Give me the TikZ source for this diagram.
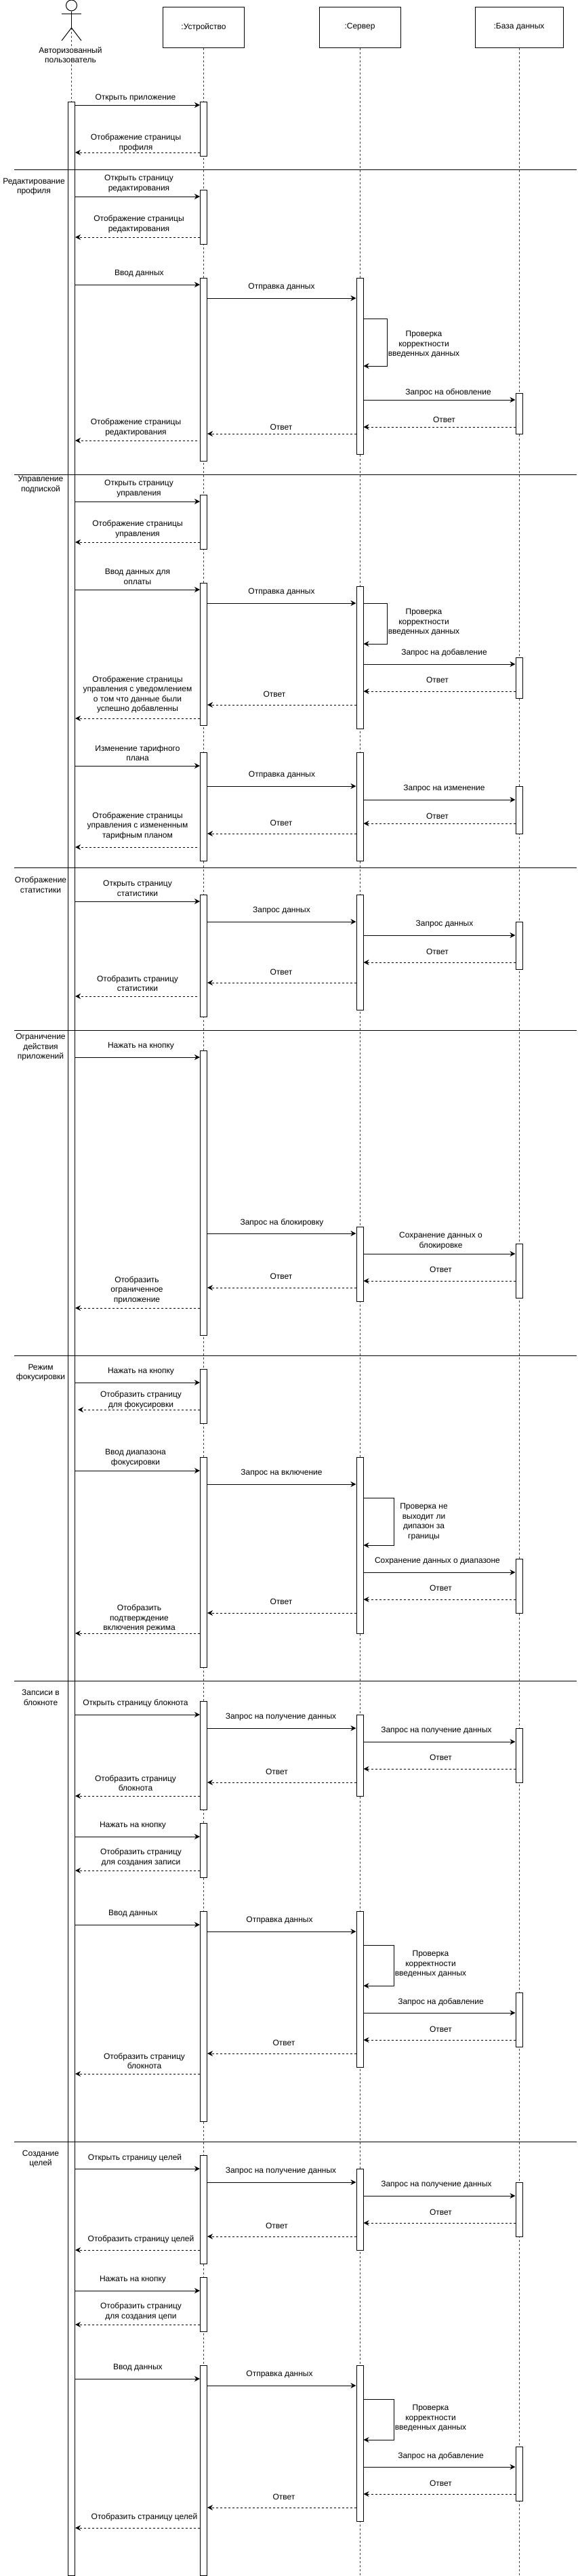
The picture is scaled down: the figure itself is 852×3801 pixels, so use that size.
\documentclass[tikz,border=0pt]{standalone}
\usepackage{fontspec}
\setmainfont{Liberation Sans}
\usetikzlibrary{arrows.meta}
\tikzset{
  headbox/.style={draw=black,line width=1pt,fill=white,minimum width=120pt,minimum height=60pt,inner sep=0pt,font=\fontsize{12}{14.5}\selectfont},
  actbarst/.style={draw=black,line width=1pt,fill=white,minimum width=10pt,inner sep=0pt},
  lab/.style={align=center,inner sep=0pt,font=\fontsize{12}{14.5}\selectfont},
  lifeln/.style={draw=black!75,line width=1pt,dash pattern=on 3pt off 3pt},
  msg/.style={draw=black,line width=1pt,-{Stealth[length=8pt,width=8pt,inset=2.5pt]}},
  ret/.style={msg,dash pattern=on 3pt off 3pt},
  sect/.style={draw=black,line width=1pt},
  limb/.style={draw=black,line width=1pt}
}
\newcommand\actbar[4]{\node[actbarst,minimum height={(#4-#3)*1pt}] (#1) at (#2,{(#3+#4)/2}) {};}
\newcommand\lbl[4]{\node[lab] (#1) at (#2,#3) {#4};}
\newcommand\msgR[3]{\draw[msg] (#1.east |- 0,#3) -- (#2.west |- 0,#3);}
\newcommand\retL[4][]{\draw[ret,#1] (#2.west |- 0,#4) -- (#3.east |- 0,#4);}
\newcommand\selfm[4]{\draw[msg] (#1.east |- 0,#2) -- ++(#4,0) -- ++(0,{#3-#2}) -- (#1.east |- 0,#3);}
\newcommand\sectln[2]{\coordinate (#1a) at (21,#2); \coordinate (#1b) at (851,#2); \draw[sect] (#1a) -- (#1b);}
\begin{document}
\begin{tikzpicture}[x=1pt,y=-1pt]
\useasboundingbox (0,0) rectangle (852,3801);
\fill[white] (0,0) rectangle (852,3801);
% heads
\node[headbox] (dev) at (300.5,40) {:Устройство};
\node[headbox] (srv) at (531,40) {:Сервер};
\node[headbox,minimum width=130pt] (dbs) at (766,40) {:База данных};
\coordinate (usr) at (105.5,41);
\coordinate (pageend) at (0,3800);
% lifelines
\draw[lifeln] (usr) -- (usr |- pageend);
\draw[lifeln] (dev.south) -- (dev.south |- pageend);
\draw[lifeln] (srv.south) -- (srv.south |- pageend);
\draw[lifeln] (dbs.south) -- (dbs.south |- pageend);
% actor
\node[circle,draw=black,line width=1pt,fill=white,minimum size=16pt,inner sep=0pt] (ahead) at (105.5,8) {};
\coordinate (aarml) at (91,20); \coordinate (aarmr) at (120,20);
\coordinate (alegl) at (91,60); \coordinate (alegr) at (120,60);
\draw[limb] (ahead.south) -- (usr);
\draw[limb] (aarml) -- (aarmr);
\draw[limb] (alegl) -- (usr) -- (alegr);
\node[lab,fill=white] (ulabel) at (104,81) {Авторизованный\\пользователь};
% bars
\actbar{a0}{105.5}{150}{3800}
\actbar{d1}{300.5}{150}{230}
\actbar{d2}{300.5}{280}{360}
\actbar{d3}{300.5}{410}{680}
\actbar{s1}{531}{410}{670}
\actbar{b1}{766}{580}{640}
\actbar{d4}{300.5}{730}{810}
\actbar{d5}{300.5}{860}{1070}
\actbar{s2}{531}{865}{1075}
\actbar{b2}{766}{970}{1030}
\actbar{d6}{300.5}{1110}{1270}
\actbar{s3}{531}{1110}{1270}
\actbar{b3}{766}{1160}{1230}
\actbar{d7}{300.5}{1320}{1500}
\actbar{s4}{531}{1320}{1490}
\actbar{b4}{766}{1360}{1430}
\actbar{d8}{300.5}{1550}{1970}
\actbar{s5}{531}{1810}{1920}
\actbar{b5}{766}{1835}{1915}
\actbar{d9}{300.5}{2020}{2100}
\actbar{d10}{300.5}{2150}{2460}
\actbar{s6}{531}{2150}{2410}
\actbar{b6}{766}{2300}{2380}
\actbar{d11}{300.5}{2510}{2670}
\actbar{s7}{531}{2530}{2650}
\actbar{b7}{766}{2550}{2630}
\actbar{d12}{300.5}{2690}{2770}
\actbar{d13}{300.5}{2820}{3130}
\actbar{s8}{531}{2820}{3050}
\actbar{b8}{766}{2940}{3020}
\actbar{d14}{300.5}{3180}{3340}
\actbar{s9}{531}{3200}{3320}
\actbar{b9}{766}{3220}{3300}
\actbar{d15}{300.5}{3360}{3440}
\actbar{d16}{300.5}{3490}{3800}
\actbar{s10}{531}{3490}{3720}
\actbar{b10}{766}{3610}{3690}
% profile
\msgR{a0}{d1}{155} \lbl{t1}{200}{145}{Открыть приложение}
\retL{d1}{a0}{225} \lbl{t2}{200.5}{211}{Отображение страницы\\профиля}
% edit profile
\lbl{c1}{50}{275.5}{Редактирование\\профиля}
\msgR{a0}{d2}{290} \lbl{t3}{205}{271}{Открыть страницу\\редактирования}
\retL{d2}{a0}{350} \lbl{t4}{205}{331}{Отображение страницы\\редактирования}
\msgR{a0}{d3}{420} \lbl{t5}{205.5}{404}{Ввод данных}
\msgR{d3}{s1}{440} \lbl{t6}{415.5}{424}{Отправка данных}
\selfm{s1}{470}{540}{35} \lbl{t7}{625.5}{508.5}{Проверка\\корректности\\введенных данных}
\msgR{s1}{b1}{590} \lbl{t8}{661.5}{579}{Запрос на обновление}
\retL{b1}{s1}{630} \lbl{t9}{655.5}{619.5}{Ответ}
\retL{s1}{d3}{640} \lbl{t10}{415}{630}{Ответ}
\retL[shorten <=4pt]{d3}{a0}{650} \lbl{t11}{200.5}{631}{Отображение страницы\\редактирования}
% subscription
\lbl{c2}{60}{715}{Управление\\подпиской}
\msgR{a0}{d4}{740} \lbl{t12}{205}{721}{Открыть страницу\\управления}
\retL{d4}{a0}{800} \lbl{t13}{203}{781}{Отображение страницы\\управления}
\msgR{a0}{d5}{870} \lbl{t14}{203}{851}{Ввод данных для\\оплаты}
\msgR{d5}{s2}{890} \lbl{t15}{415.5}{874}{Отправка данных}
\selfm{s2}{890}{950}{35} \lbl{t16}{625.5}{918.5}{Проверка\\корректности\\введенных данных}
\msgR{s2}{b2}{980} \lbl{t17}{655.5}{963.5}{Запрос на добавление}
\retL{b2}{s2}{1020} \lbl{t18}{645.5}{1003.5}{Ответ}
\retL{s2}{d5}{1040} \lbl{t19}{405}{1024}{Ответ}
\retL{d5}{a0}{1060} \lbl{t20}{203}{1025}{Отображение страницы\\управления с уведомлением\\о том что данные были\\успешно добавленны}
\msgR{a0}{d6}{1130} \lbl{t21}{203}{1111}{Изменение тарифного\\плана}
\msgR{d6}{s3}{1160} \lbl{t22}{416}{1144}{Отправка данных}
\msgR{s3}{b3}{1180} \lbl{t23}{655.5}{1163.5}{Запрос на изменение}
\retL{b3}{s3}{1215} \lbl{t24}{645.5}{1204}{Ответ}
\retL{s3}{d6}{1230} \lbl{t25}{415}{1214}{Ответ}
\retL[shorten <=4pt]{d6}{a0}{1250} \lbl{t26}{203}{1218.5}{Отображение страницы\\управления с измененным\\тарифным планом}
% statistics
\lbl{c3}{60}{1305.5}{Отображение\\статистики}
\msgR{a0}{d7}{1330} \lbl{t27}{203}{1311}{Открыть страницу\\статистики}
\msgR{d7}{s4}{1360} \lbl{t28}{415.5}{1344}{Запрос данных}
\msgR{s4}{b4}{1380} \lbl{t29}{656}{1363.5}{Запрос данных}
\retL{b4}{s4}{1420} \lbl{t30}{645.5}{1404}{Ответ}
\retL{s4}{d7}{1450} \lbl{t31}{415}{1434}{Ответ}
\retL[shorten <=4pt]{d7}{a0}{1470} \lbl{t32}{203}{1451}{Отобразить страницу\\статистики}
% restrictions
\lbl{c4}{60}{1545.5}{Ограничение\\действия\\приложений}
\msgR{a0}{d8}{1560} \lbl{t33}{208}{1543.5}{Нажать на кнопку}
\msgR{d8}{s5}{1820} \lbl{t34}{416}{1804}{Запрос на блокировку}
\msgR{s5}{b5}{1850} \lbl{t35}{650.5}{1831}{Сохранение данных о\\блокировке}
\retL{b5}{s5}{1890} \lbl{t36}{650.5}{1873}{Ответ}
\retL{s5}{d8}{1900} \lbl{t37}{415}{1883.5}{Ответ}
\retL{d8}{a0}{1930} \lbl{t38}{202}{1903.5}{Отобразить\\ограниченное\\приложение}
% focus
\lbl{c5}{60}{2025.5}{Режим\\фокусировки}
\msgR{a0}{d9}{2040} \lbl{t39}{208}{2024}{Нажать на кнопку}
\retL[shorten >=4pt]{d9}{a0}{2080} \lbl{t40}{208}{2066}{Отобразить страницу\\для фокусировки}
\msgR{a0}{d10}{2170} \lbl{t41}{200}{2151}{Ввод диапазона\\фокусировки}
\msgR{d10}{s6}{2190} \lbl{t42}{415.5}{2174}{Запрос на включение}
\selfm{s6}{2210}{2280}{45} \lbl{t43}{625.5}{2245.5}{Проверка не\\выходит ли\\дипазон за\\границы}
\msgR{s6}{b6}{2320} \lbl{t44}{645.5}{2303.5}{Сохранение данных о диапазоне}
\retL{b6}{s6}{2360} \lbl{t45}{650.5}{2343.5}{Ответ}
\retL{s6}{d10}{2380} \lbl{t46}{415}{2363.5}{Ответ}
\retL{d10}{a0}{2410} \lbl{t47}{205.5}{2388}{Отобразить\\подтверждение\\включения режима}
% notes
\lbl{c6}{60}{2505}{Запсиси в\\блокноте}
\msgR{a0}{d11}{2530} \lbl{t48}{200}{2513.5}{Открыть страницу блокнота}
\msgR{d11}{s7}{2550} \lbl{t49}{414.5}{2534}{Запрос на получение данных}
\msgR{s7}{b7}{2570} \lbl{t50}{644}{2554}{Запрос на получение данных}
\retL{b7}{s7}{2610} \lbl{t51}{650.5}{2593.5}{Ответ}
\retL{s7}{d11}{2630} \lbl{t52}{408.5}{2614}{Ответ}
\retL{d11}{a0}{2650} \lbl{t53}{200}{2631}{Отобразить страницу\\блокнота}
\msgR{a0}{d12}{2710} \lbl{t54}{196}{2694}{Нажать на кнопку}
\retL{d12}{a0}{2760} \lbl{t55}{208}{2741}{Отобразить страницу\\для создания записи}
\msgR{a0}{d13}{2840} \lbl{t56}{196.5}{2824}{Ввод данных}
\msgR{d13}{s8}{2850} \lbl{t57}{412.5}{2834}{Отправка данных}
\selfm{s8}{2870}{2930}{45} \lbl{t58}{635.5}{2898.5}{Проверка\\корректности\\введенных данных}
\msgR{s8}{b8}{2970} \lbl{t59}{650.5}{2954}{Запрос на добавление}
\retL{b8}{s8}{3010} \lbl{t60}{650.5}{2994}{Ответ}
\retL{s8}{d13}{3030} \lbl{t61}{419}{3014}{Ответ}
\retL{d13}{a0}{3060} \lbl{t62}{213}{3041}{Отобразить страницу\\блокнота}
% goals
\lbl{c7}{60}{3185.5}{Создание\\целей}
\msgR{a0}{d14}{3200} \lbl{t63}{199}{3184}{Открыть страницу целей}
\msgR{d14}{s9}{3220} \lbl{t64}{414.5}{3204}{Запрос на получение данных}
\msgR{s9}{b9}{3240} \lbl{t65}{644}{3224}{Запрос на получение данных}
\retL{b9}{s9}{3280} \lbl{t66}{650.5}{3264}{Ответ}
\retL{s9}{d14}{3300} \lbl{t67}{408.5}{3284}{Ответ}
\retL{d14}{a0}{3320} \lbl{t68}{208}{3304}{Отобразить страницу целей}
\msgR{a0}{d15}{3380} \lbl{t69}{196}{3364}{Нажать на кнопку}
\retL{d15}{a0}{3430} \lbl{t70}{208}{3411}{Отобразить страницу\\для создания цепи}
\msgR{a0}{d16}{3510} \lbl{t71}{203.5}{3494}{Ввод данных}
\msgR{d16}{s10}{3520} \lbl{t72}{412.5}{3504}{Отправка данных}
\selfm{s10}{3540}{3600}{45} \lbl{t73}{635.5}{3568.5}{Проверка\\корректности\\введенных данных}
\msgR{s10}{b10}{3640} \lbl{t74}{650.5}{3624}{Запрос на добавление}
\retL{b10}{s10}{3680} \lbl{t75}{650.5}{3664}{Ответ}
\retL{s10}{d16}{3700} \lbl{t76}{419}{3684}{Ответ}
\retL{d16}{a0}{3730} \lbl{t77}{213}{3714}{Отобразить страницу целей}
% section lines
\sectln{sa}{250}
\sectln{sb}{700}
\sectln{sc}{1280}
\sectln{sd}{1520}
\sectln{se}{2000}
\sectln{sf}{2480}
\sectln{sg}{3160}
\end{tikzpicture}
\end{document}
